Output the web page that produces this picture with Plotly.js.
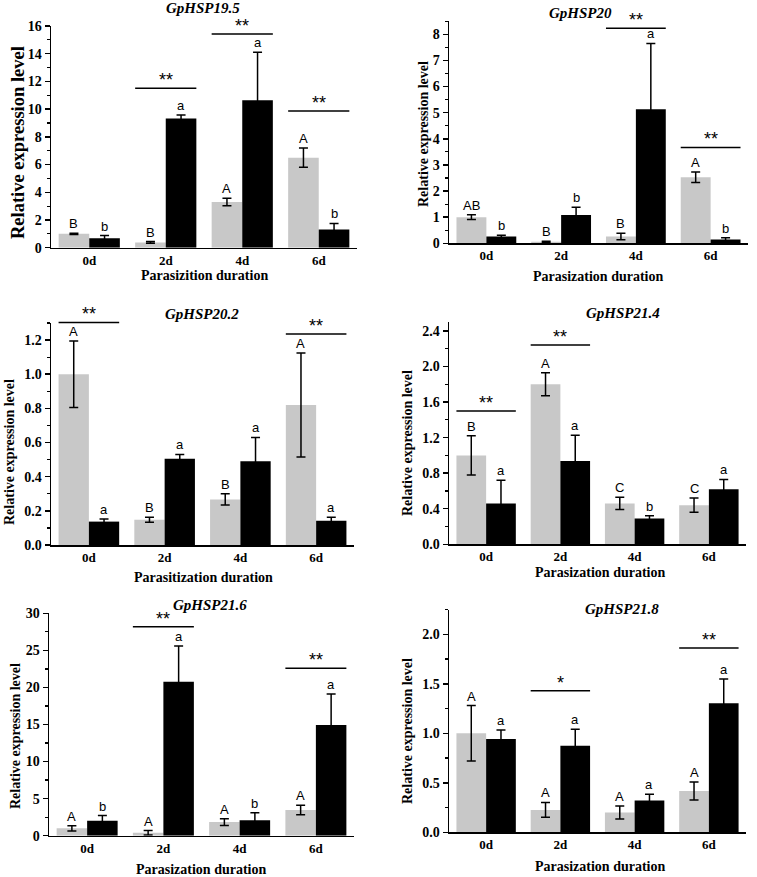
<!DOCTYPE html>
<html>
<head>
<meta charset="utf-8">
<script src="https://cdn.plot.ly/plotly-3.0.1.min.js"></script>
<style>html,body{margin:0;padding:0;background:#fff}#chart{width:757px;height:877px}</style>
</head>
<body>
<div id="chart"></div>
<script>
// ---------- DATA ----------
const days = ['0d', '2d', '4d', '6d'];

const hsp195_ctrl = [1.0, 0.38, 3.3, 6.5];
const hsp195_ctrl_err = [0.05, 0.06, 0.27, 0.7];
const hsp195_para = [0.68, 9.33, 10.65, 1.32];
const hsp195_para_err = [0.2, 0.25, 3.45, 0.43];
const hsp195_ctrl_letters = ['B', 'B', 'A', 'A'];
const hsp195_para_letters = ['b', 'a', 'a', 'b'];
const hsp195_sig_days = ['2d', '4d', '6d'];
const hsp195_sig_y = [11.5, 15.43, 9.86];
const hsp195_sig_mark = ['**', '**', '**'];

const hsp20_ctrl = [1.0, 0.06, 0.26, 2.53];
const hsp20_ctrl_err = [0.09, 0.02, 0.12, 0.2];
const hsp20_para = [0.26, 1.08, 5.13, 0.15];
const hsp20_para_err = [0.05, 0.3, 2.52, 0.06];
const hsp20_ctrl_letters = ['AB', 'B', 'B', 'A'];
const hsp20_para_letters = ['b', 'b', 'a', 'b'];
const hsp20_sig_days = ['4d', '6d'];
const hsp20_sig_y = [8.23, 3.67];
const hsp20_sig_mark = ['**', '**'];

const hsp202_ctrl = [1.0, 0.148, 0.267, 0.82];
const hsp202_ctrl_err = [0.195, 0.015, 0.033, 0.305];
const hsp202_para = [0.137, 0.505, 0.49, 0.142];
const hsp202_para_err = [0.015, 0.025, 0.14, 0.02];
const hsp202_ctrl_letters = ['A', 'B', 'B', 'A'];
const hsp202_para_letters = ['a', 'a', 'a', 'a'];
const hsp202_sig_days = ['0d', '6d'];
const hsp202_sig_y = [1.303, 1.235];
const hsp202_sig_mark = ['**', '**'];

const hsp214_ctrl = [1.0, 1.80, 0.46, 0.44];
const hsp214_ctrl_err = [0.22, 0.13, 0.07, 0.08];
const hsp214_para = [0.46, 0.937, 0.29, 0.62];
const hsp214_para_err = [0.26, 0.29, 0.03, 0.11];
const hsp214_ctrl_letters = ['B', 'A', 'C', 'C'];
const hsp214_para_letters = ['a', 'a', 'b', 'a'];
const hsp214_sig_days = ['0d', '2d'];
const hsp214_sig_y = [1.50, 2.24];
const hsp214_sig_mark = ['**', '**'];

const hsp216_ctrl = [1.0, 0.4, 1.84, 3.46];
const hsp216_ctrl_err = [0.35, 0.3, 0.45, 0.65];
const hsp216_para = [2.02, 20.78, 2.1, 14.93];
const hsp216_para_err = [0.7, 4.8, 1.0, 4.2];
const hsp216_ctrl_letters = ['A', 'A', 'A', 'A'];
const hsp216_para_letters = ['b', 'a', 'b', 'a'];
const hsp216_sig_days = ['2d', '6d'];
const hsp216_sig_y = [28.2, 22.6];
const hsp216_sig_mark = ['**', '**'];

const hsp218_ctrl = [1.0, 0.226, 0.2, 0.417];
const hsp218_ctrl_err = [0.28, 0.075, 0.065, 0.09];
const hsp218_para = [0.943, 0.875, 0.32, 1.303];
const hsp218_para_err = [0.09, 0.165, 0.065, 0.245];
const hsp218_ctrl_letters = ['A', 'A', 'A', 'A'];
const hsp218_para_letters = ['a', 'a', 'a', 'a'];
const hsp218_sig_days = ['2d', '6d'];
const hsp218_sig_y = [1.43, 1.86];
const hsp218_sig_mark = ['*', '**'];

const gene_titles = ['GpHSP19.5', 'GpHSP20', 'GpHSP20.2', 'GpHSP21.4', 'GpHSP21.6', 'GpHSP21.8'];
const x_titles = ['Parasizition duration', 'Parasization duration', 'Parasitization duration',
                  'Parasization duration', 'Parasization duration', 'Parasization duration'];
const y_title = 'Relative expression level';

// ---------- LAYOUT HELPERS ----------
const W = 757, H = 877;
const fx = v => v / W;
const fy = v => 1 - v / H;

const genes = [
  {c: hsp195_ctrl, ce: hsp195_ctrl_err, p: hsp195_para, pe: hsp195_para_err, cl: hsp195_ctrl_letters, pl: hsp195_para_letters, sd: hsp195_sig_days, sy: hsp195_sig_y, sm: hsp195_sig_mark},
  {c: hsp20_ctrl, ce: hsp20_ctrl_err, p: hsp20_para, pe: hsp20_para_err, cl: hsp20_ctrl_letters, pl: hsp20_para_letters, sd: hsp20_sig_days, sy: hsp20_sig_y, sm: hsp20_sig_mark},
  {c: hsp202_ctrl, ce: hsp202_ctrl_err, p: hsp202_para, pe: hsp202_para_err, cl: hsp202_ctrl_letters, pl: hsp202_para_letters, sd: hsp202_sig_days, sy: hsp202_sig_y, sm: hsp202_sig_mark},
  {c: hsp214_ctrl, ce: hsp214_ctrl_err, p: hsp214_para, pe: hsp214_para_err, cl: hsp214_ctrl_letters, pl: hsp214_para_letters, sd: hsp214_sig_days, sy: hsp214_sig_y, sm: hsp214_sig_mark},
  {c: hsp216_ctrl, ce: hsp216_ctrl_err, p: hsp216_para, pe: hsp216_para_err, cl: hsp216_ctrl_letters, pl: hsp216_para_letters, sd: hsp216_sig_days, sy: hsp216_sig_y, sm: hsp216_sig_mark},
  {c: hsp218_ctrl, ce: hsp218_ctrl_err, p: hsp218_para, pe: hsp218_para_err, cl: hsp218_ctrl_letters, pl: hsp218_para_letters, sd: hsp218_sig_days, sy: hsp218_sig_y, sm: hsp218_sig_mark}
];

// panel geometry (pixels) and axis settings
const panels = [
  {xd: [51, 357], yd: [26, 247.7], range: [0, 16], dtick: 2, minor: 1, fmt: 'd',
   title: [203, 8], xt: [205, 275], yt: [18, 143], ytSize: 18.5},
  {xd: [449, 748], yd: [21.2, 243.3], range: [0, 8.5], dtick: 1, minor: 0.5, fmt: 'd',
   title: [580, 13], xt: [598, 276], yt: [424, 134], ytSize: 14},
  {xd: [51, 354], yd: [323, 545], range: [0, 1.3], dtick: 0.2, minor: 0.1, fmt: '.1f',
   title: [202, 314], xt: [203, 577], yt: [10, 452], ytSize: 14},
  {xd: [449, 746], yd: [322, 544.3], range: [0, 2.5], dtick: 0.4, minor: 0.2, fmt: '.1f',
   title: [623, 313], xt: [600, 572], yt: [407, 443], ytSize: 14},
  {xd: [49, 354], yd: [613.3, 835.7], range: [0, 30], dtick: 5, minor: 2.5, fmt: 'd',
   title: [210, 605], xt: [201, 869], yt: [15, 736], ytSize: 14},
  {xd: [449, 746], yd: [609.5, 832.3], range: [0, 2.25], dtick: 0.5, minor: 0.25, fmt: '.1f',
   title: [622, 609], xt: [600, 866], yt: [407, 731], ytSize: 14}
];

// convert a category index / data value of panel k into paper coordinates (not clipped)
function paperX(k, idx) {
  const P = panels[k];
  return fx(P.xd[0] + (idx + 0.5) / days.length * (P.xd[1] - P.xd[0]));
}
function paperY(k, v) {
  const P = panels[k];
  return fy(P.yd[1] - (v - P.range[0]) / (P.range[1] - P.range[0]) * (P.yd[1] - P.yd[0]));
}

const GRAY = 'rgb(200,200,200)';
const BLACK = '#000000';
const serif = 'Liberation Serif, Times New Roman, serif';
const sans = 'Liberation Sans, Arial, sans-serif';

const traces = [];
const annotations = [];
const shapes = [];
const layout = {
  width: W, height: H, autosize: false,
  margin: {l: 0, r: 0, t: 0, b: 0, pad: 0},
  paper_bgcolor: '#fff', plot_bgcolor: 'rgba(0,0,0,0)',
  barmode: 'group', bargap: 0.2, bargroupgap: 0,
  showlegend: false,
  font: {family: serif, color: '#000'}
};

genes.forEach((g, k) => {
  const n = k === 0 ? '' : String(k + 1);
  const xa = 'x' + n, ya = 'y' + n;
  const P = panels[k];
  const errStyle = {thickness: 1.5, width: 4.5, color: '#000'};

  traces.push({
    type: 'bar', x: days, y: g.c, xaxis: xa, yaxis: ya,
    marker: {color: GRAY, line: {width: 0}},
    error_y: Object.assign({type: 'data', array: g.ce, visible: true}, errStyle),
    hoverinfo: 'skip', cliponaxis: false
  });
  traces.push({
    type: 'bar', x: days, y: g.p, xaxis: xa, yaxis: ya,
    marker: {color: BLACK, line: {width: 0}},
    error_y: Object.assign({type: 'data', array: g.pe, visible: true}, errStyle),
    hoverinfo: 'skip', cliponaxis: false
  });

  layout['xaxis' + n] = {
    domain: [fx(P.xd[0]), fx(P.xd[1])], anchor: ya,
    type: 'category', range: [-0.5, 3.5], fixedrange: true,
    showline: true, linecolor: '#000', linewidth: 1.5,
    ticks: '', showgrid: false, zeroline: false,
    tickfont: {family: serif, size: 13, weight: 700, color: '#000'}
  };
  layout['yaxis' + n] = {
    domain: [fy(P.yd[1]), fy(P.yd[0])], anchor: xa,
    range: P.range, dtick: P.dtick, tick0: 0, tickformat: P.fmt, fixedrange: true,
    showline: true, linecolor: '#000', linewidth: 1.5,
    ticks: 'outside', ticklen: 5, tickwidth: 1.5, tickcolor: '#000',
    minor: {ticks: 'outside', ticklen: 3, tickwidth: 1.2, tickcolor: '#000', dtick: P.minor, tick0: 0, showgrid: false},
    showgrid: false, zeroline: false,
    tickfont: {family: serif, size: 14, weight: 700, color: '#000'}
  };

  // panel title
  annotations.push({
    xref: 'paper', yref: 'paper', x: fx(P.title[0]), y: fy(P.title[1]),
    xanchor: 'center', yanchor: 'middle', showarrow: false,
    text: '<b><i>' + gene_titles[k] + '</i></b>',
    font: {family: serif, size: 15, color: '#000'}
  });
  // x title
  annotations.push({
    xref: 'paper', yref: 'paper', x: fx(P.xt[0]), y: fy(P.xt[1]),
    xanchor: 'center', yanchor: 'middle', showarrow: false,
    text: '<b>' + x_titles[k] + '</b>',
    font: {family: serif, size: 14, color: '#000'}
  });
  // y title
  annotations.push({
    xref: 'paper', yref: 'paper', x: fx(P.yt[0]), y: fy(P.yt[1]),
    xanchor: 'center', yanchor: 'middle', showarrow: false, textangle: -90,
    text: '<b>' + y_title + '</b>',
    font: {family: serif, size: P.ytSize, color: '#000'}
  });

  // letters above bars
  days.forEach((d, i) => {
    annotations.push({
      xref: 'paper', yref: 'paper', x: paperX(k, i - 0.2), y: paperY(k, g.c[i] + g.ce[i]),
      xanchor: 'center', yanchor: 'bottom', showarrow: false,
      text: g.cl[i], font: {family: sans, size: 13, color: '#000'}
    });
    annotations.push({
      xref: 'paper', yref: 'paper', x: paperX(k, i + 0.2), y: paperY(k, g.p[i] + g.pe[i]),
      xanchor: 'center', yanchor: 'bottom', showarrow: false,
      text: g.pl[i], font: {family: sans, size: 13, color: '#000'}
    });
  });

  // significance lines and stars
  g.sd.forEach((d, j) => {
    const i = days.indexOf(d);
    const yy = paperY(k, g.sy[j]);
    shapes.push({
      type: 'line', xref: 'paper', yref: 'paper',
      x0: paperX(k, i - 0.4), x1: paperX(k, i + 0.4),
      y0: yy, y1: yy, line: {color: '#000', width: 1.5}
    });
    annotations.push({
      xref: 'paper', yref: 'paper', x: paperX(k, i), y: yy,
      xanchor: 'center', yanchor: 'bottom', yshift: -4, showarrow: false,
      text: g.sm[j], font: {family: sans, size: 18, color: '#000'}
    });
  });
});

layout.annotations = annotations;
layout.shapes = shapes;

Plotly.newPlot('chart', traces, layout, {staticPlot: true, displayModeBar: false});
</script>
</body>
</html>
